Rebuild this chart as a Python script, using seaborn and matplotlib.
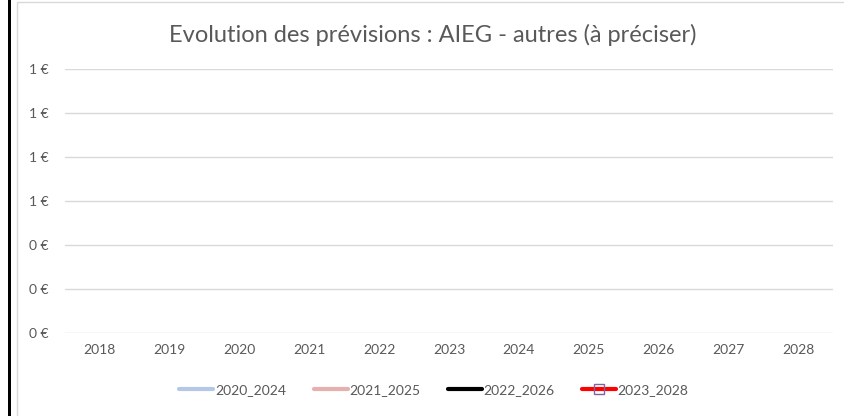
import numpy as np
import pandas as pd
import seaborn as sns
import matplotlib
matplotlib.use("Agg")
import matplotlib.pyplot as plt
from matplotlib.lines import Line2D
from matplotlib.patches import Rectangle
from matplotlib.ticker import FuncFormatter

years = ["2018", "2019", "2020", "2021", "2022", "2023", "2024", "2025", "2026", "2027", "2028"]
series_names = ["2020_2024", "2021_2025", "2022_2026", "2023_2028"]
# No values are plotted in the reference (empty series)
s_2020_2024 = [np.nan] * 11
s_2021_2025 = [np.nan] * 11
s_2022_2026 = [np.nan] * 11
s_2023_2028 = [np.nan] * 11
y_ticks = [0, 0.2, 0.4, 0.6, 0.8, 1.0, 1.2]

sns.set_theme(style="white")
plt.rcParams['font.family'] = ['Lato', 'DejaVu Sans']

fig = plt.figure(figsize=(8.45, 4.16), dpi=100)
W, H = 845, 416
ax = fig.add_axes([65 / W, (H - 333) / H, (833 - 65) / W, (333 - 69) / H])

colors = ["#B4C7E7", "#E6B0AE", "#000000", "#FF0000"]
values = [s_2020_2024, s_2021_2025, s_2022_2026, s_2023_2028]
x = np.arange(len(years))
for name, vals, c in zip(series_names, values, colors):
    df = pd.DataFrame({"x": x, "y": vals})
    ax.plot(df["x"], df["y"], color=c, lw=3)

ax.set_xlim(-0.5, len(years) - 0.5)
ax.set_ylim(0, 1.2)
ax.set_xticks(x)
ax.set_xticklabels(years)
ax.set_yticks(y_ticks)
ax.yaxis.set_major_formatter(FuncFormatter(lambda v, p: f"{v:.0f} €"))
ax.grid(axis="y", color="#D9D9D9", lw=1)
ax.grid(axis="x", visible=False)
for s in ax.spines.values():
    s.set_visible(False)
ax.tick_params(axis="both", length=0, colors="#595959", labelsize=10)
ax.tick_params(axis="x", pad=8)
ax.tick_params(axis="y", pad=12)

fig.text(433 / W, 1 - 35 / H, "Evolution des prévisions : AIEG - autres (à préciser)",
         fontsize=17, color="#595959", ha="center", va="center")

handles = [
    Line2D([], [], color=colors[0], lw=3),
    Line2D([], [], color=colors[1], lw=3),
    Line2D([], [], color=colors[2], lw=3),
    Line2D([], [], color=colors[3], lw=3, marker="s", markersize=7,
           markerfacecolor="none", markeredgecolor="#8064A2", markeredgewidth=1),
]
fig.legend(handles, series_names, loc="center", bbox_to_anchor=(434 / W, 1 - 390 / H),
           ncol=4, frameon=False, fontsize=10, handlelength=2.45, handletextpad=0.1,
           columnspacing=2.0, labelcolor="#595959")

fig.patches.append(Rectangle((8 / W, 0), 3 / W, 1, transform=fig.transFigure,
                             facecolor="black", edgecolor="none"))
fig.patches.append(Rectangle((17 / W, -0.1), 1.2, 1 - 2 / H + 0.1, transform=fig.transFigure,
                             facecolor="none", edgecolor="#D9D9D9", lw=1))

fig.savefig("out.png", dpi=100, facecolor="white")
